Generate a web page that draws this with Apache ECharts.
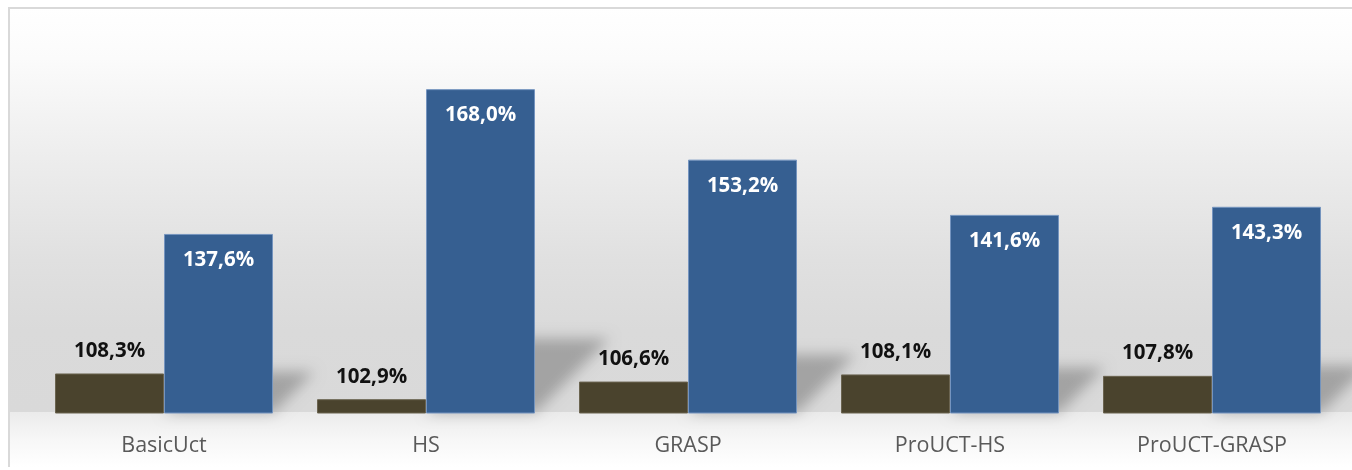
<!DOCTYPE html>
<html>
<head>
<meta charset="utf-8">
<script src="https://cdn.jsdelivr.net/npm/echarts@6/dist/echarts.min.js"></script>
<style>
  html, body { margin: 0; padding: 0; background: #ffffff; }
  #chart { width: 1352px; height: 470px; }
</style>
</head>
<body>
<div id="chart"></div>
<script>
// Algorithms compared
const categories = ['BasicUct', 'HS', 'GRASP', 'ProUCT-HS', 'ProUCT-GRASP'];
// Relative results (%), first and second measure
const darkValues = [108.3, 102.9, 106.6, 108.1, 107.8];
const blueValues = [137.6, 168.0, 153.2, 141.6, 143.3];
// Value axis range (%)
const axisMin = 100;
const axisMax = 180;

const BAR_FRACTION = 0.416;
const fmt = v => v.toFixed(1).replace('.', ',') + '%';
const labelFont = '"Open Sans", "DejaVu Sans", sans-serif';

const chart = echarts.init(document.getElementById('chart'), null, { renderer: 'canvas' });

// Soft perspective shadow cast up and to the right of each blue bar
function renderShadow(params, api) {
  const idx = api.value(0);
  const val = api.value(1);
  const base = api.coord([idx, axisMin]);
  const top = api.coord([idx, val]);
  const band = api.size([1, 0])[0];
  const w = band * BAR_FRACTION;
  const H = base[1] - top[1];
  const h = H * 0.23;
  const s = h * 1.0;
  const left = base[0];
  const right = left + w;
  const far = 3000;
  return {
    type: 'polygon',
    shape: {
      points: [
        [left - far, base[1]],
        [right - far, base[1]],
        [right + s - far, base[1] - h],
        [left + s - far, base[1] - h]
      ]
    },
    style: {
      fill: '#000',
      shadowColor: 'rgba(0,0,0,0.25)',
      shadowBlur: 14,
      shadowOffsetX: far,
      shadowOffsetY: 0
    }
  };
}

const option = {
  animation: false,
  backgroundColor: '#ffffff',
  graphic: [
    {
      type: 'rect',
      z: -20,
      silent: true,
      shape: { x: 9, y: 8, width: 1343, height: 459 },
      style: {
        fill: new echarts.graphic.LinearGradient(0, 0, 0, 1, [
          { offset: 0, color: '#ffffff' },
          { offset: 0.11, color: '#fbfbfb' },
          { offset: 0.31, color: '#eeeeee' },
          { offset: 0.55, color: '#e0e0e0' },
          { offset: 0.70, color: '#dadada' },
          { offset: 0.88, color: '#d9d9d9' },
          { offset: 0.881, color: '#ebebeb' },
          { offset: 0.94, color: '#f7f7f7' },
          { offset: 1, color: '#ffffff' }
        ])
      }
    },
    {
      type: 'polyline',
      z: -19,
      silent: true,
      shape: { points: [[9, 467], [9, 8], [1352, 8]] },
      style: { stroke: '#d9d9d9', lineWidth: 2, fill: null }
    }
  ],
  grid: { left: 33, right: 9, top: 32, bottom: 57 },
  xAxis: {
    type: 'category',
    data: categories,
    axisLine: { show: false },
    axisTick: { show: false },
    axisLabel: {
      color: '#595959',
      fontFamily: labelFont,
      fontSize: 21.5,
      margin: 22
    }
  },
  yAxis: {
    type: 'value',
    min: axisMin,
    max: axisMax,
    show: false,
    splitLine: { show: false }
  },
  series: [
    {
      type: 'custom',
      name: 'shadow',
      z: 1,
      silent: true,
      renderItem: renderShadow,
      encode: { x: 0, y: 1 },
      data: blueValues.map((v, i) => [i, v])
    },
    {
      type: 'bar',
      name: 'A',
      z: 3,
      data: darkValues,
      barWidth: (BAR_FRACTION * 100) + '%',
      barGap: '0%',
      itemStyle: { color: '#4a432d', borderColor: '#6b6450', borderWidth: 1 },
      label: {
        show: true,
        position: 'top',
        distance: 12,
        color: '#111111',
        fontFamily: labelFont,
        fontWeight: 'bold',
        fontSize: 20.5,
        formatter: p => fmt(p.value)
      }
    },
    {
      type: 'bar',
      name: 'B',
      z: 3,
      data: blueValues,
      barWidth: (BAR_FRACTION * 100) + '%',
      barGap: '0%',
      itemStyle: { color: '#365f91', borderColor: '#7594bf', borderWidth: 1 },
      label: {
        show: true,
        position: 'insideTop',
        distance: 16,
        color: '#ffffff',
        fontFamily: labelFont,
        fontWeight: 'bold',
        fontSize: 20.5,
        formatter: p => fmt(p.value)
      }
    }
  ]
};

chart.setOption(option);
</script>
</body>
</html>
